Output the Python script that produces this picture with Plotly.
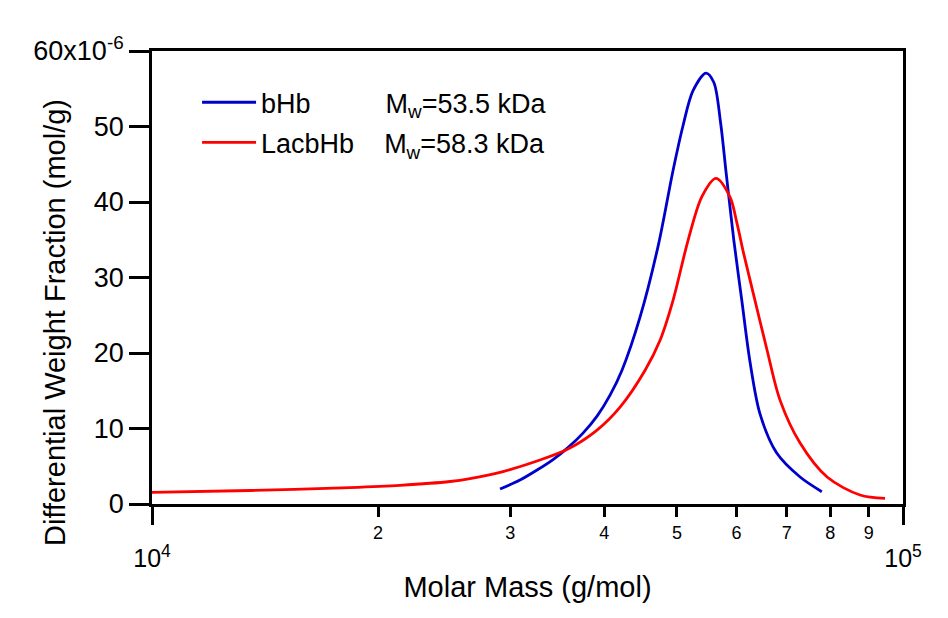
import plotly.graph_objects as go

# ---- data (molar mass in g/mol, differential weight fraction in 1e-6 mol/g)
red_mass = [10000, 13510, 18350, 21390, 24940, 26510, 29340, 32560, 35800, 39140,
            42000, 45350, 47480, 49410, 51740, 54000, 56360, 58840, 60060, 61290,
            63140, 65920, 68590, 72940, 79240, 87650, 94630]
red_dwf = [1.55, 1.79, 2.18, 2.47, 2.98, 3.37, 4.30, 5.69, 7.28, 9.79,
           12.83, 17.72, 21.69, 26.98, 34.92, 40.74, 43.12, 40.65, 37.34, 33.37,
           28.04, 20.37, 13.76, 8.07, 3.57, 1.19, 0.75]

blue_mass = [29070, 30900, 32560, 34200, 35800, 37490, 39140, 40730, 42250, 44650,
             47190, 49410, 50950, 52530, 54670, 55980, 57150, 58130, 58940, 59530,
             61000, 62570, 64520, 67900, 72940, 77960]
blue_dwf = [1.98, 3.17, 4.50, 5.89, 7.47, 9.39, 11.64, 14.42, 17.72, 24.74,
            34.13, 44.18, 50.13, 54.76, 57.08, 55.86, 50.57, 43.95, 38.66, 34.92,
            26.98, 18.78, 11.90, 6.75, 3.57, 1.63]

series_names = ["bHb", "LacbHb"]
mw_labels = ["M<sub>w</sub>=53.5 kDa", "M<sub>w</sub>=58.3 kDa"]

y_tickvals = [0, 10, 20, 30, 40, 50, 60]
y_ticktext = ["0", "10", "20", "30", "40", "50", "60x10<sup>-6</sup>"]
x_minor_vals = [20000, 30000, 40000, 50000, 60000, 70000, 80000, 90000]
x_minor_text = ["2", "3", "4", "5", "6", "7", "8", "9"]
x_major_vals = [10000, 100000]
x_major_text = ["10<sup>4</sup>", "10<sup>5</sup>"]

FONT = "Liberation Sans, Arial, Helvetica, sans-serif"
NB = "\u00a0"

fig = go.Figure()
fig.add_trace(go.Scatter(
    x=blue_mass, y=blue_dwf, mode="lines", xaxis="x", yaxis="y",
    name=series_names[0] + NB * 10 + mw_labels[0], legendgroup="a",
    line=dict(color="#0000CC", width=2.8, shape="spline", smoothing=0.9)))
fig.add_trace(go.Scatter(
    x=red_mass, y=red_dwf, mode="lines", xaxis="x2", yaxis="y",
    name=series_names[1] + NB * 4 + mw_labels[1], legendgroup="b",
    line=dict(color="#FF0000", width=2.8, shape="spline", smoothing=0.9)))

fig.update_layout(
    width=948, height=618,
    margin=dict(l=144, r=53, t=43, b=122),
    paper_bgcolor="white", plot_bgcolor="white",
    font=dict(family=FONT, color="black"),
    showlegend=True,
    legend=dict(x=0.06, y=0.94, xanchor="left", yanchor="top",
                bgcolor="rgba(0,0,0,0)", font=dict(size=27, family=FONT),
                tracegroupgap=2, itemwidth=54),
    xaxis=dict(type="log", range=[4, 5], tickmode="array",
               tickvals=x_minor_vals, ticktext=x_minor_text,
               ticks="outside", ticklen=10, tickwidth=2.8, tickcolor="black",
               showline=True, linecolor="black", linewidth=2.8, mirror=True,
               showgrid=False, zeroline=False,
               tickfont=dict(size=18, family=FONT)),
    xaxis2=dict(type="log", range=[4, 5], overlaying="x", anchor="y", side="bottom",
                tickmode="array", tickvals=x_major_vals, ticktext=x_major_text,
                ticks="outside", ticklen=20, tickwidth=2.8, tickcolor="black",
                showline=False, showgrid=False, zeroline=False,
                tickfont=dict(size=25, family=FONT), ticklabelstandoff=12,
                title=dict(text="Molar Mass (g/mol)", font=dict(size=29, family=FONT),
                           standoff=5)),
    yaxis=dict(range=[0, 60], tickmode="array", tickvals=y_tickvals, ticktext=y_ticktext,
               ticks="outside", ticklen=20, tickwidth=2.8, tickcolor="black",
               showline=True, linecolor="black", linewidth=2.8, mirror=True,
               showgrid=False, zeroline=False,
               tickfont=dict(size=27, family=FONT)),
)

fig.add_annotation(
    text="Differential Weight Fraction (mol/g)", textangle=-90,
    xref="paper", yref="paper", x=(55 - 152) / 751, y=1 - (323 - 51) / 453,
    xanchor="center", yanchor="middle", showarrow=False,
    font=dict(size=29, family=FONT, color="black"))

fig.write_html("out.html")
